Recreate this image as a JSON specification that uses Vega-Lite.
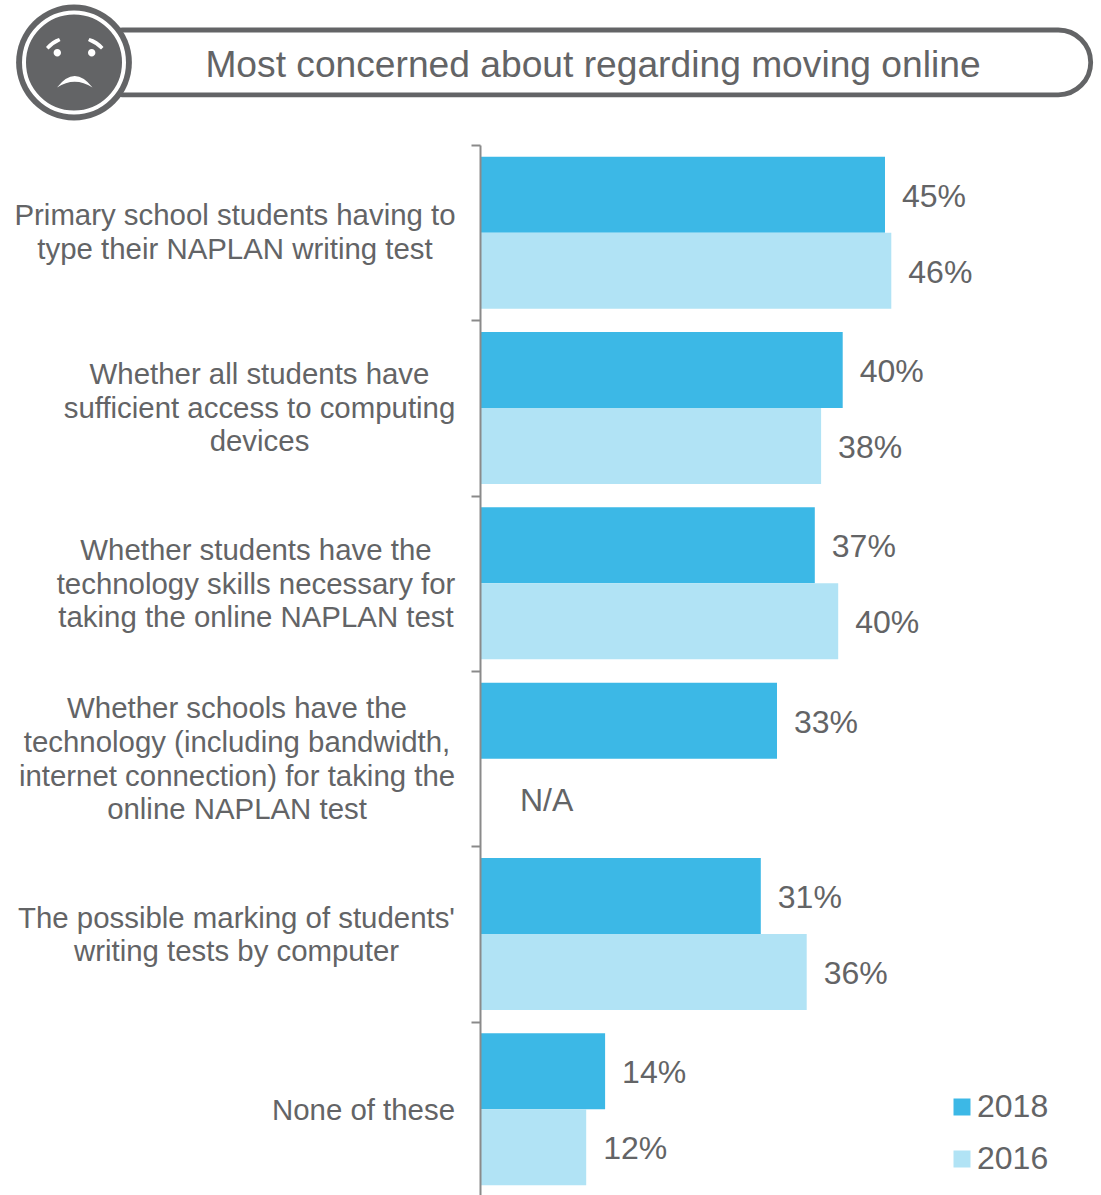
{
"$schema":"https://vega.github.io/schema/vega-lite/v6.json",
"autosize":{"type":"none"},
"padding":{"left":480,"top":145,"right":0,"bottom":0},
"width":621,"height":1050,
"background":"white",
"config":{"view":{"stroke":null},"font":"Liberation Sans"},
"layer":[
{
"data":{"values":[
{"category":"Primary school students having to|type their NAPLAN writing test","year":"2018","value":45,"label":"45%"},
{"category":"Primary school students having to|type their NAPLAN writing test","year":"2016","value":45.7,"label":"46%"},
{"category":"Whether all students have|sufficient access to computing|devices","year":"2018","value":40.3,"label":"40%"},
{"category":"Whether all students have|sufficient access to computing|devices","year":"2016","value":37.9,"label":"38%"},
{"category":"Whether students have the|technology skills necessary for|taking the online NAPLAN test","year":"2018","value":37.2,"label":"37%"},
{"category":"Whether students have the|technology skills necessary for|taking the online NAPLAN test","year":"2016","value":39.8,"label":"40%"},
{"category":"Whether schools have the|technology (including bandwidth,|internet connection) for taking the|online NAPLAN test","year":"2018","value":33,"label":"33%"},
{"category":"Whether schools have the|technology (including bandwidth,|internet connection) for taking the|online NAPLAN test","year":"2016","value":null,"label":"N/A"},
{"category":"The possible marking of students'|writing tests by computer","year":"2018","value":31.2,"label":"31%"},
{"category":"The possible marking of students'|writing tests by computer","year":"2016","value":36.3,"label":"36%"},
{"category":"None of these","year":"2018","value":13.9,"label":"14%"},
{"category":"None of these","year":"2016","value":11.8,"label":"12%"}
]},
"encoding":{
"y":{"field":"category","type":"nominal","sort":null,"title":null,
"scale":{"range":[0,1052],"paddingInner":0,"paddingOuter":0},
"axis":{"zindex":1,"domainColor":"#8a8a8a","domainWidth":2,"tickColor":"#8a8a8a","tickWidth":2,"tickSize":9,"tickBand":"extent","labelPadding":0,"labelFontSize":29.4,"labelColor":"#636466","labelAlign":"center","labelLineHeight":33.7,"labelLimit":0,"labelOverlap":false,"labelBound":false,"labelFlush":false,
"labelExpr":"split(datum.label,'|')",
"encoding":{"labels":{
"dx":{"value":{"expr":"{'Primary sc':-236.5,'Whether al':-212,'Whether st':-215.5,'Whether sc':-234.5,'The possib':-235,'None of th':-108}[substring(datum.value,0,10)]"}},
"dy":{"value":{"expr":"{'Primary sc':-17,'Whether al':-33.5,'Whether st':-33,'Whether sc':-50,'The possib':-16,'None of th':1}[substring(datum.value,0,10)]"}}
}}}},
"yOffset":{"field":"year","type":"nominal","sort":["2018","2016"],"scale":{"domain":["2018","2016"],"paddingInner":0,"paddingOuter":0.153}}
},
"layer":[
{"mark":{"type":"bar","opacity":1},
"encoding":{
"x":{"field":"value","type":"quantitative","scale":{"domain":[0,69],"nice":false,"zero":true},"axis":null},
"color":{"field":"year","type":"nominal","sort":["2018","2016"],"scale":{"domain":["2018","2016"],"range":["#3cb8e6","#b1e3f5"]},
"legend":{"title":null,"orient":"none","legendX":466,"legendY":946,"symbolType":"square","symbolSize":289,"symbolStrokeWidth":0,"symbolOpacity":1,"labelFontSize":32,"labelColor":"#636466","labelOffset":-1,"rowPadding":20,"padding":0}}}},
{"transform":[{"filter":"datum.value != null"}],
"mark":{"type":"text","align":"left","baseline":"middle","dx":17,"dy":2,"fontSize":32,"color":"#636466"},
"encoding":{"x":{"field":"value","type":"quantitative","scale":{"domain":[0,69],"nice":false,"zero":true},"axis":null},"text":{"field":"label"}}},
{"transform":[{"filter":"datum.value == null"}],
"mark":{"type":"text","align":"left","baseline":"middle","dx":40,"dy":4.5,"fontSize":32,"color":"#636466"},
"encoding":{"x":{"datum":0,"type":"quantitative","scale":{"domain":[0,69],"nice":false,"zero":true},"axis":null},"text":{"field":"label"}}}
]
},
{
"data":{"values":[{"title":"Most concerned about regarding moving online"}]},
"layer":[
{"mark":{"type":"rect","fill":"white","stroke":"#636466","strokeWidth":4.8,"cornerRadius":32.5},
"encoding":{
"x":{"datum":90,"type":"quantitative","scale":{"domain":[480,1101],"nice":false,"zero":false},"axis":null},
"x2":{"datum":1090.7},
"y":{"datum":30,"type":"quantitative","scale":{"domain":[145,1195],"range":[0,1050],"nice":false,"zero":false},"axis":null},
"y2":{"datum":94.8}}},
{"mark":{"type":"text","align":"center","baseline":"middle","fontSize":37.2,"color":"#636466"},
"encoding":{
"x":{"datum":593,"type":"quantitative","scale":{"domain":[480,1101],"nice":false,"zero":false},"axis":null},
"y":{"datum":65.5,"type":"quantitative","scale":{"domain":[145,1195],"range":[0,1050],"nice":false,"zero":false},"axis":null},
"text":{"field":"title"}}},
{"mark":{"type":"point","shape":"circle","filled":true,"fill":"#636466","opacity":1,"size":13400,"strokeWidth":0},
"encoding":{
"x":{"datum":74,"type":"quantitative","scale":{"domain":[480,1101],"nice":false,"zero":false},"axis":null},
"y":{"datum":62.5,"type":"quantitative","scale":{"domain":[145,1195],"range":[0,1050],"nice":false,"zero":false},"axis":null}}},
{"mark":{"type":"point","shape":"circle","filled":false,"stroke":"white","opacity":1,"size":10000,"strokeWidth":4},
"encoding":{
"x":{"datum":74,"type":"quantitative","scale":{"domain":[480,1101],"nice":false,"zero":false},"axis":null},
"y":{"datum":62.5,"type":"quantitative","scale":{"domain":[145,1195],"range":[0,1050],"nice":false,"zero":false},"axis":null}}},
{"mark":{"type":"point","filled":true,"fill":"white","opacity":1,"size":4,"strokeWidth":0,
"shape":"M-28 -15 Q-22 -22 -15 -24 L-13.5 -21 Q-20 -18 -25.5 -12.5 Z M29.5 -15 Q23.5 -22 15.5 -24 L14 -21 Q21 -18 27 -12.5 Z M-20.4 -9.3 a3.7 3.7 0 1 0 7.4 0 a3.7 3.7 0 1 0 -7.4 0 Z M14 -9.3 a3.7 3.7 0 1 0 7.4 0 a3.7 3.7 0 1 0 -7.4 0 Z M-17 25.5 Q0.7 2.5 18.5 25.5 Q0.7 14 -17 25.5 Z"},
"encoding":{
"x":{"datum":74,"type":"quantitative","scale":{"domain":[480,1101],"nice":false,"zero":false},"axis":null},
"y":{"datum":62,"type":"quantitative","scale":{"domain":[145,1195],"range":[0,1050],"nice":false,"zero":false},"axis":null}}}
]
}
],
"resolve":{"scale":{"x":"independent","y":"independent"}}
}
